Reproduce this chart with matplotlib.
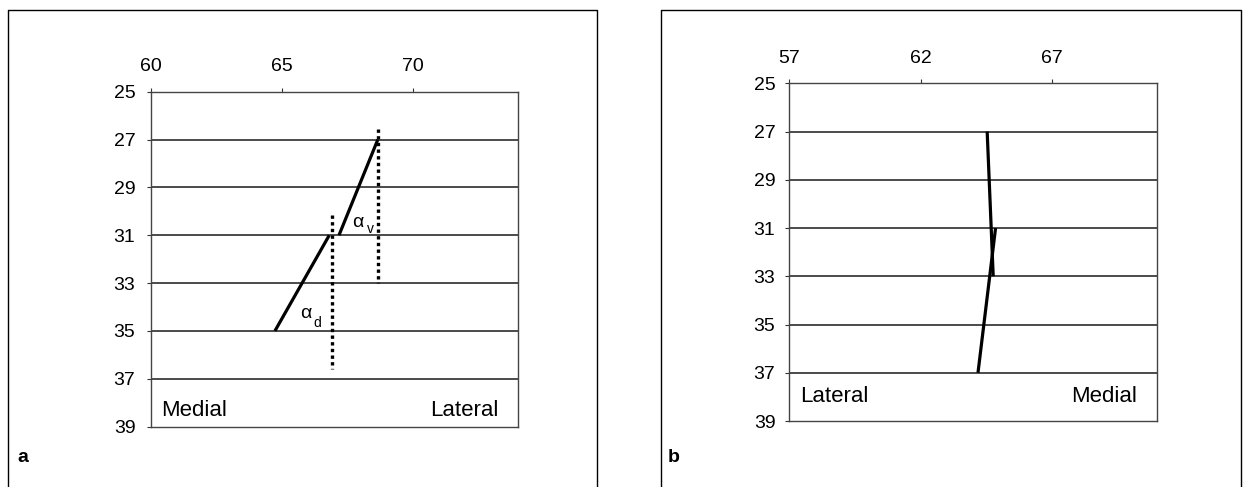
import matplotlib
matplotlib.use("Agg")
import matplotlib.pyplot as plt
from matplotlib.lines import Line2D

plt.rcParams['font.family'] = ['Liberation Sans', 'DejaVu Sans']

# ---- data: panel a ----
a_xticks = [60, 65, 70]
a_xlim = (60, 74)
yticks = [25, 27, 29, 31, 33, 35, 37, 39]
a_dorsal_x = [64.73, 66.8]
a_dorsal_y = [35, 31]
a_ventral_x = [67.17, 68.65]
a_ventral_y = [31, 27]
a_ref_d_x = [66.92, 66.92]
a_ref_d_y = [30.15, 36.6]
a_ref_v_x = [68.65, 68.65]
a_ref_v_y = [26.55, 33.0]

# ---- data: panel b ----
b_xticks = [57, 62, 67]
b_xlim = (57, 71)
b_seg1_x = [64.54, 64.77]
b_seg1_y = [27, 33]
b_seg2_x = [64.86, 64.19]
b_seg2_y = [31, 37]

W, H = 1243, 487
fig = plt.figure(figsize=(W / 100, H / 100), dpi=100)

def px_rect(l, t, r, b):
    return [l / W, 1 - b / H, (r - l) / W, (b - t) / H]

ax_a = fig.add_axes(px_rect(150.7, 91.7, 518.3, 426.7))
ax_b = fig.add_axes(px_rect(789.3, 83.3, 1156.7, 421.0))

def style(ax, xticks, xlim, ypad):
    ax.set_xlim(*xlim)
    ax.set_ylim(39, 25)
    ax.set_xticks(xticks)
    ax.set_yticks(yticks)
    ax.xaxis.tick_top()
    ax.tick_params(axis='x', direction='out', length=3, width=0.8,
                   labelsize=14, pad=9, color='#333333')
    ax.tick_params(axis='y', direction='out', length=3, width=0.8,
                   labelsize=14, pad=ypad, color='#333333')
    for s in ax.spines.values():
        s.set_color('#444444')
        s.set_linewidth(1.0)
    for y in yticks[1:-1]:
        ax.axhline(y, color='#1a1a1a', lw=1.1, zorder=1)

style(ax_a, a_xticks, a_xlim, 8)
style(ax_b, b_xticks, b_xlim, 7)

# panel a marks
ax_a.plot(a_dorsal_x, a_dorsal_y, color='black', lw=2.3, solid_capstyle='butt', zorder=3)
ax_a.plot(a_ventral_x, a_ventral_y, color='black', lw=2.3, solid_capstyle='butt', zorder=3)
ax_a.plot(a_ref_d_x, a_ref_d_y, color='black', lw=2.4, linestyle=(0, (1, 1)), zorder=3)
ax_a.plot(a_ref_v_x, a_ref_v_y, color='black', lw=2.4, linestyle=(0, (1, 1)), zorder=3)

ax_a.text(67.68, 30.64, 'α', fontsize=14, ha='left', va='baseline')
ax_a.text(68.22, 30.89, 'v', fontsize=10, ha='left', va='baseline')
ax_a.text(65.68, 34.47, 'α', fontsize=14, ha='left', va='baseline')
ax_a.text(66.21, 34.82, 'd', fontsize=10, ha='left', va='baseline')

ax_a.text(60.38, 38.54, 'Medial', fontsize=16, ha='left', va='baseline')
ax_a.text(73.25, 38.54, 'Lateral', fontsize=16, ha='right', va='baseline')

# panel b marks
ax_b.plot(b_seg1_x, b_seg1_y, color='black', lw=2.3, solid_capstyle='butt', zorder=3)
ax_b.plot(b_seg2_x, b_seg2_y, color='black', lw=2.3, solid_capstyle='butt', zorder=3)

ax_b.text(57.41, 38.21, 'Lateral', fontsize=16, ha='left', va='baseline')
ax_b.text(70.25, 38.21, 'Medial', fontsize=16, ha='right', va='baseline')

# panel frames (open at the bottom)
def frame(l, t, r):
    xs = [l / W, l / W, r / W, r / W]
    ys = [0, 1 - t / H, 1 - t / H, 0]
    fig.add_artist(Line2D(xs, ys, color='black', lw=1.0, transform=fig.transFigure))

frame(7.5, 10, 597)
frame(661, 10, 1240.5)

fig.text(17 / W, 1 - 458 / H, 'a', fontsize=14, fontweight='bold', ha='left', va='center')
fig.text(668 / W, 1 - 458 / H, 'b', fontsize=14, fontweight='bold', ha='left', va='center')

fig.savefig('out.png', dpi=100)
